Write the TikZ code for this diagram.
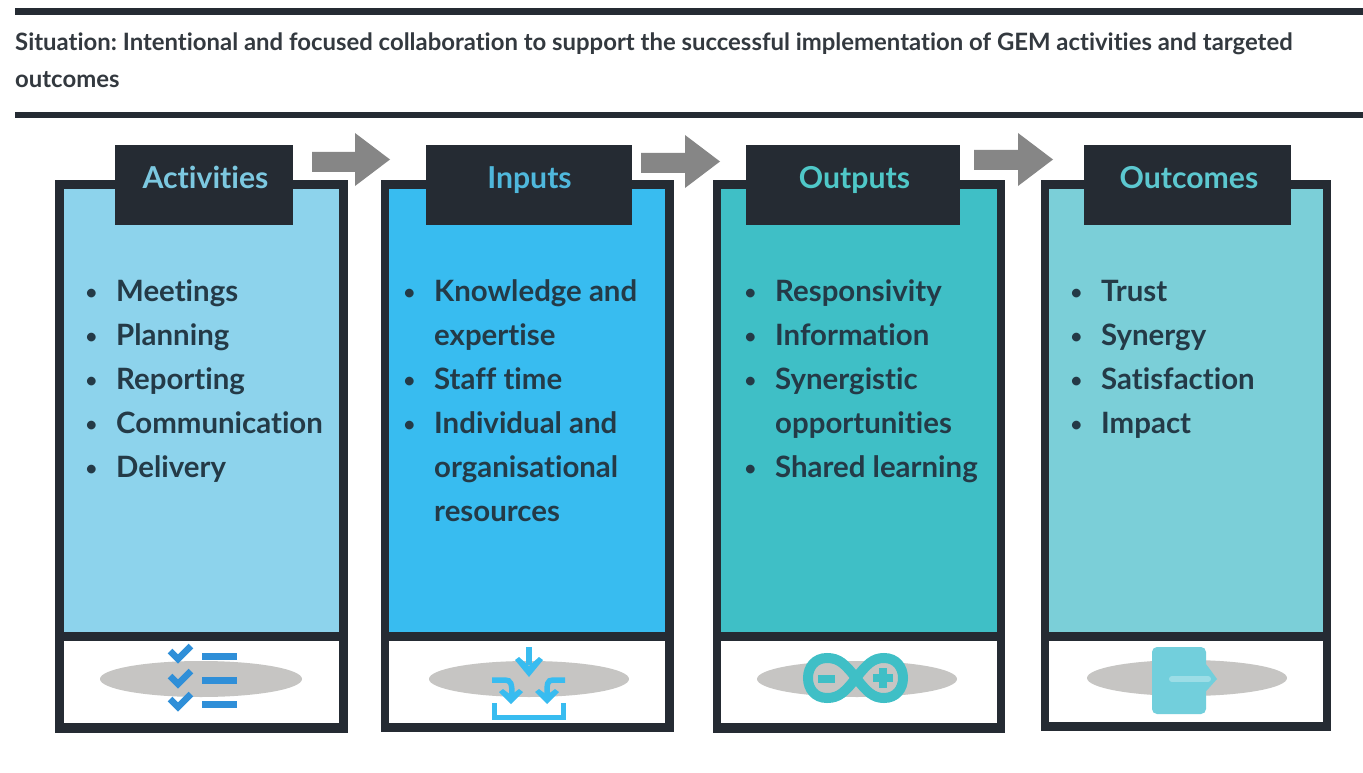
\documentclass[tikz,border=0pt]{standalone}
\usepackage{fontspec}
\setmainfont{Lato}[Ligatures=NoCommon]
\usetikzlibrary{calc}
\frenchspacing
\definecolor{dark}{HTML}{252B33}
\definecolor{bodyc}{HTML}{243A47}
\definecolor{titlec}{HTML}{33393F}
\definecolor{arrowc}{HTML}{868686}
\definecolor{ell}{HTML}{C6C5C3}
\definecolor{ca}{HTML}{8DD3EC}
\definecolor{cb}{HTML}{38BCF0}
\definecolor{cc}{HTML}{3FBFC6}
\definecolor{cd}{HTML}{7BCFD8}
\definecolor{ce}{HTML}{72CFDC}
\definecolor{ha}{HTML}{7CC8E0}
\definecolor{hb}{HTML}{4FB8DC}
\definecolor{hc}{HTML}{4FC8C8}
\definecolor{hd}{HTML}{5CC8D0}
\definecolor{icona}{HTML}{2F8FD8}
\newcommand{\bul}{\llap{\raisebox{1.5pt}{\fontsize{20}{20}\selectfont\textbullet}\hspace{19pt}}}
\tikzset{
  x=1pt,y=-1pt,
  rule/.style={fill=dark,draw=none},
  headbox/.style={fill=dark,draw=none,inner sep=0,text height=43pt,text depth=37pt,font=\fontsize{30.2}{32}\selectfont\bfseries},
  listtext/.style={anchor=north west,inner sep=0,align=left,text=bodyc,font=\fontsize{29.4}{44}\selectfont\bfseries},
  blockarrow/.style={fill=arrowc,draw=none},
  shadow/.style={fill=ell,draw=none},
  chk/.style={draw=icona,line width=6.5pt,line join=miter},
  bar/.style={fill=icona,draw=none},
  inarrow/.style={draw=cb,line width=5.5pt,fill=none},
  inhead/.style={fill=cb,draw=none},
  infty/.style={draw=cc,line width=10pt,fill=none},
  infsign/.style={fill=cc,draw=none}
}
\begin{document}
\begin{tikzpicture}
\useasboundingbox (0,0) rectangle (1363,773);
\fill[white] (0,0) rectangle (1363,773);
% rules
\fill[rule] (15,8) rectangle (1363,15);
\fill[rule] (15,112) rectangle (1363,118);
\node (title) [anchor=north west,inner sep=0,align=left,text=titlec,font=\fontsize{23.9}{37}\selectfont\bfseries] at (15,33)
 {Situation: Intentional and focused collaboration to support the successful implementation of GEM activities and targeted\\outcomes};
% panels
\fill[dark] (55,180) rectangle (348,733);
\fill[ca] (64,189) rectangle (339,632);
\fill[white] (64,641) rectangle (339,723);
\fill[dark] (381,180) rectangle (674,732);
\fill[cb] (389,189) rectangle (665,632);
\fill[white] (389,641) rectangle (665,723);
\fill[dark] (713,180) rectangle (1005,733);
\fill[cc] (721,189) rectangle (997,632);
\fill[white] (721,641) rectangle (997,723);
\fill[dark] (1041,180) rectangle (1331,731);
\fill[cd] (1049,189) rectangle (1323,632);
\fill[white] (1049,641) rectangle (1323,722);
% headers
\node (h1) [headbox,minimum width=178pt,text=ha] at (204,185) {\hspace*{3pt}Activities};
\node (h2) [headbox,minimum width=206pt,text=hb] at (529,185) {\hspace*{1pt}Inputs};
\node (h3) [headbox,minimum width=214pt,text=hc] at (853,185) {\hspace*{3pt}Outputs};
\node (h4) [headbox,minimum width=207pt,text=hd] at (1187.5,185) {\hspace*{3pt}Outcomes};
% arrows
\fill[blockarrow] (312,152)--(355,152)--(355,133)--(390,159.5)--(355,186)--(355,172)--(312,172)--cycle;
\fill[blockarrow] (641,153)--(685,153)--(685,135)--(720,161.5)--(685,188)--(685,173)--(641,173)--cycle;
\fill[blockarrow] (974,150)--(1018,150)--(1018,133)--(1053,159.5)--(1018,186)--(1018,170)--(974,170)--cycle;
% lists
\node (l1) [listtext] at (116,279) {\bul Meetings\\\bul Planning\\\bul Reporting\\\bul Communication\\\bul Delivery};
\node (l2) [listtext] at (434,279) {\bul Knowledge and\\expertise\\\bul Staff time\\\bul Individual and\\organisational\\resources};
\node (l3) [listtext] at (775,279) {\bul Responsivity\\\bul Information\\\bul Synergistic\\opportunities\\\bul Shared learning};
\node (l4) [listtext] at (1101,280) {\bul Trust\\\bul Synergy\\\bul Satisfaction\\\bul Impact};
% shadows
\fill[shadow] (201,679) ellipse [x radius=101,y radius=18];
\fill[shadow] (529,679) ellipse [x radius=100,y radius=18];
\fill[shadow] (857,679) ellipse [x radius=100,y radius=18];
\fill[shadow] (1187,678) ellipse [x radius=100,y radius=18];
% icon 1
\foreach \yy in {0,25,48}{
  \draw[chk] (170,{651+\yy})--(178,{659+\yy})--(191,{646+\yy});
}
\fill[bar] (202,653) rectangle (237,660);
\fill[bar] (202,677) rectangle (237,684);
\fill[bar] (202,701) rectangle (237,708);
% icon 2
\draw[inarrow] (529,647)--(529,665);
\fill[inhead] (515,660)--(519,657)--(529,666)--(539,657)--(543,660)--(529,677)--cycle;
\draw[inarrow] (492,680) -- (505,680) .. controls (511,680) and (512,684) .. (512,695);
\fill[inhead] (499,692)--(503,689)--(511,695)--(519,689)--(523,692)--(511,704)--cycle;
\draw[inarrow] (565,680) -- (553,680) .. controls (547,680) and (547,684) .. (547,695);
\fill[inhead] (535,692)--(539,689)--(547,695)--(555,689)--(559,692)--(547,704)--cycle;
\draw[cb,line width=5pt] (494.5,703)--(494.5,717)--(563,717)--(563,703);
% icon 3
\draw[infty] (856,678) .. controls (845,664) and (839,658) .. (827,658) .. controls (815,658) and (808,667) .. (808,678) .. controls (808,689) and (815,698) .. (827,698) .. controls (839,698) and (845,692) .. (856,678) .. controls (867,664) and (873,658) .. (884,658) .. controls (896,658) and (903,667) .. (903,678) .. controls (903,689) and (896,698) .. (884,698) .. controls (873,698) and (867,692) .. (856,678) -- cycle;
\fill[infsign] (818,675) rectangle (835,683);
\fill[infsign] (873,674) rectangle (893,682);
\fill[infsign] (879,668) rectangle (887,688);
% icon 4
\fill[ce,rounded corners=5pt] (1152,647) rectangle (1206,714);
\fill[ce] (1205,663)--(1209,668)--(1217,679)--(1209,688)--(1205,692)--cycle;
\draw[white,opacity=.3,line width=6pt,line cap=round] (1172,679)--(1208,679);
\end{tikzpicture}
\end{document}
